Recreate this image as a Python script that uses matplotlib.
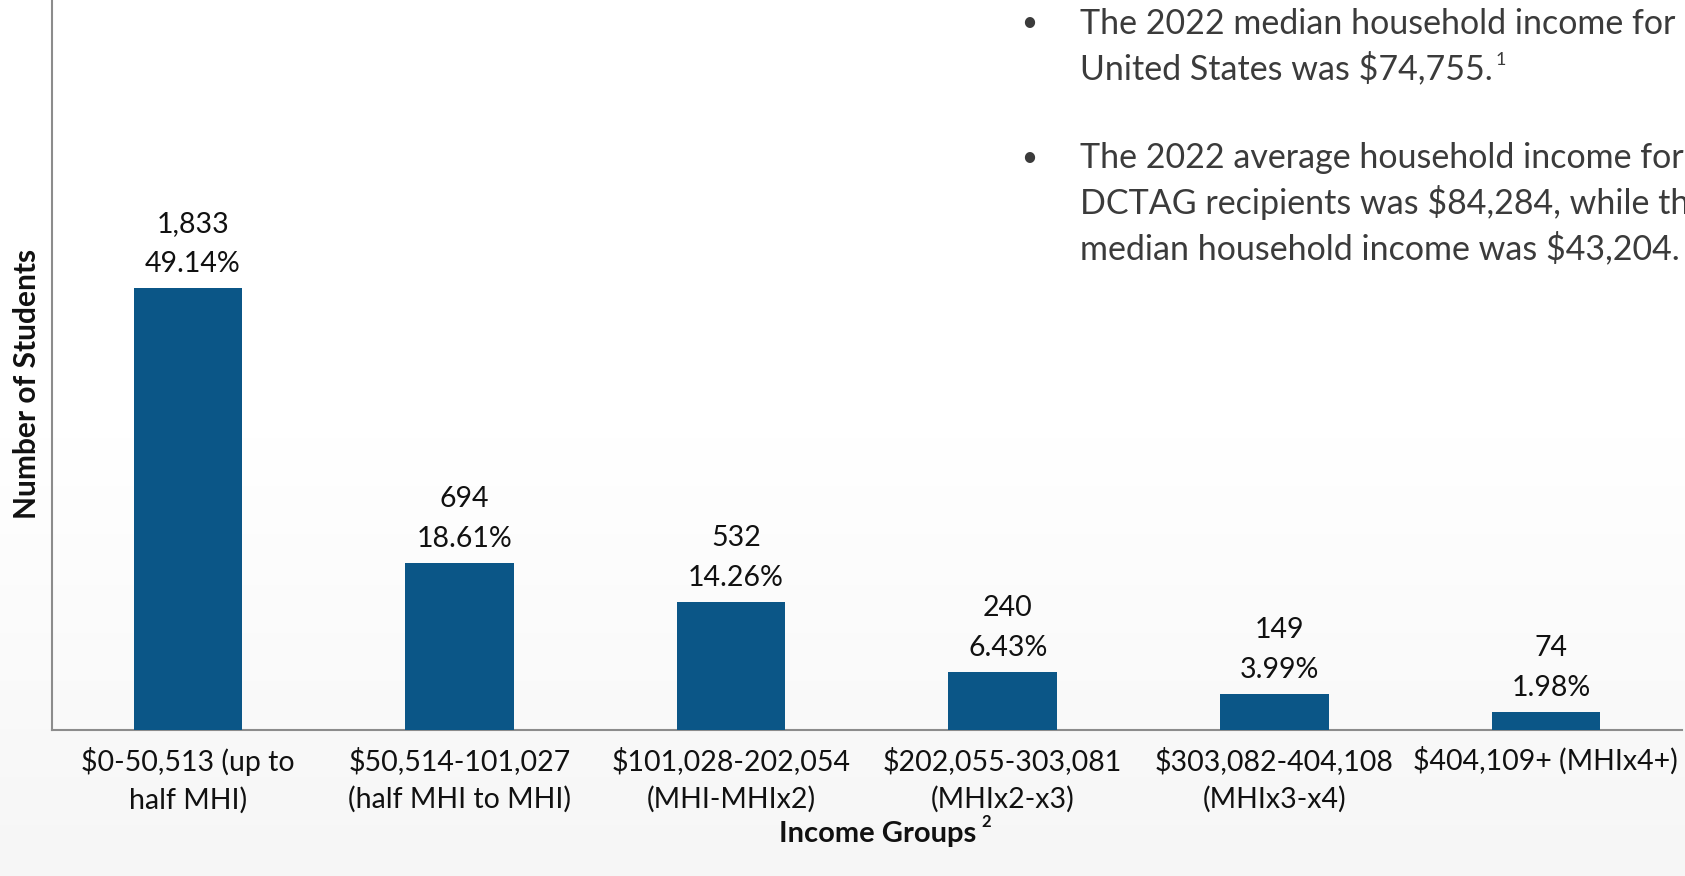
import matplotlib
matplotlib.use('Agg')
import matplotlib.pyplot as plt
import numpy as np

plt.rcParams.update({
  'font.family'      : ['Lato', 'DejaVu Sans'],
  'figure.dpi'       : 100,
  'figure.figsize'   : (16.85, 8.76),
})

# Data
groups = ['$0-50,513 (up to\nhalf MHI)',
          '$50,514-101,027\n(half MHI to MHI)',
          '$101,028-202,054\n(MHI-MHIx2)',
          '$202,055-303,081\n(MHIx2-x3)',
          '$303,082-404,108\n(MHIx3-x4)',
          '$404,109+ (MHIx4+)']
students = [1833, 694, 532, 240, 149, 74]
shares = [49.14, 18.61, 14.26, 6.43, 3.99, 1.98]

bullets = [
  ['The 2022 median household income for', 'United States was $74,755.'],
  ['The 2022 average household income for', 'DCTAG recipients was $84,284, while the',
   'median household income was $43,204.'],
]

bar_color = '#0b5687'
text_color = '#3b3b3b'

fig = plt.figure()

# soft white -> light grey background
bg = fig.add_axes([0, 0, 1, 1], zorder=-1)
grad = np.linspace(0, 1, 256).reshape(-1, 1)
bg.imshow(grad, aspect='auto', cmap=matplotlib.colors.LinearSegmentedColormap.from_list(
    'bg', ['#ffffff', '#ffffff', '#f6f6f6']), extent=[0, 1, 0, 1])
bg.axis('off')

ax = fig.add_axes([0.031, 0.1667, 0.967, 0.8333])
ax.set_facecolor('none')
x = np.arange(len(groups))
ax.bar(x, students, width=0.4, color=bar_color, zorder=3)

for xi, n, p in zip(x, students, shares):
    ax.annotate(f'{p:.2f}%', (xi, n), xytext=(5, 24), textcoords='offset pixels',
                ha='center', va='center', fontsize=20.5, color='#111111')
    ax.annotate(f'{n:,}', (xi, n), xytext=(5, 64), textcoords='offset pixels',
                ha='center', va='center', fontsize=20.5, color='#111111')

ax.set_xlim(-0.5, 5.5)
ax.set_ylim(0, 3030)
ax.set_xticks(x)
ax.set_xticklabels(groups, fontsize=20.5, color='#111111', linespacing=1.5)
ax.tick_params(axis='x', length=0, pad=12)
ax.set_yticks([])
for s in ['top', 'right']:
    ax.spines[s].set_visible(False)
for s in ['left', 'bottom']:
    ax.spines[s].set_color('#8c8c8c')
    ax.spines[s].set_linewidth(1.5)

fig.text(0.016, 1 - 383.6 / 876, 'Number of Students', rotation=90, ha='center', va='center',
         fontsize=21.5, weight='bold', color='#111111')
fig.text(976 / 1685, 0.048, 'Income Groups', ha='right', va='center',
         fontsize=21, weight='bold', color='#111111')
fig.text(981 / 1685, 0.062, '2', ha='left', va='center',
         fontsize=12, weight='bold', color='#111111')

# bullet notes in the top right corner
line_y = [[23.5, 68.5], [158, 203, 248]]
for lines, ys in zip(bullets, line_y):
    fig.text(1029 / 1685, 1 - ys[0] / 876, '\u2022', ha='center', va='center',
             fontsize=20, color=text_color)
    for t, yy in zip(lines, ys):
        last = fig.text(1080 / 1685, 1 - yy / 876, t, ha='left', va='center',
                        fontsize=24.5, color=text_color)
    if lines[-1].endswith('755.'):
        ax.annotate('1', xy=(1, 0.75), xycoords=last, xytext=(3, 0),
                    textcoords='offset pixels', ha='left', va='center',
                    fontsize=13, color=text_color, annotation_clip=False)

plt.savefig('out.png')
